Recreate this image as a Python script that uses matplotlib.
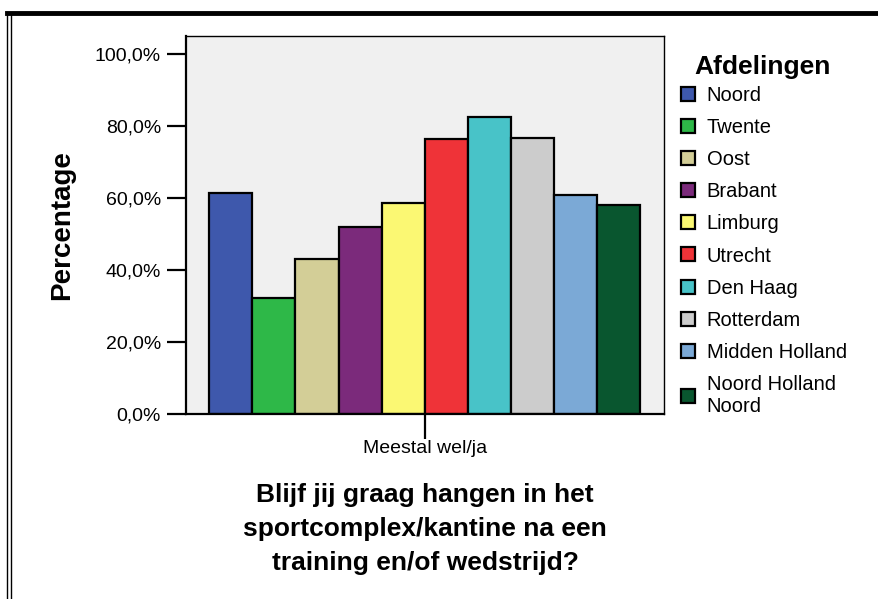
import matplotlib

matplotlib.use("Agg")
import matplotlib.pyplot as plt
from matplotlib.lines import Line2D

plt.rcParams["font.family"] = ["Liberation Sans", "DejaVu Sans"]

afdelingen = ["Noord", "Twente", "Oost", "Brabant", "Limburg", "Utrecht",
              "Den Haag", "Rotterdam", "Midden Holland", "Noord Holland\nNoord"]
percentages = [61.3, 32.1, 43.1, 51.9, 58.6, 76.5, 82.6, 76.8, 60.9, 58.1]
colors = ["#3e58ac", "#2eb848", "#d3ce97", "#7b2a7b", "#fbf873", "#ef3338",
          "#48c3c8", "#cccccc", "#7ba9d6", "#09562f"]
category = "Meestal wel/ja"
yticks = [0, 20, 40, 60, 80, 100]
ytick_labels = ["0,0%", "20,0%", "40,0%", "60,0%", "80,0%", "100,0%"]
title = "Blijf jij graag hangen in het\nsportcomplex/kantine na een\ntraining en/of wedstrijd?"

fig = plt.figure(figsize=(8.79, 5.99), dpi=100)
ax = fig.add_axes([0.2116, 0.3088, 0.5438, 0.6311])
ax.set_facecolor("#f0f0f0")

positions = list(range(len(percentages)))
ax.bar(positions, percentages, width=1.0, color=colors,
       edgecolor="black", linewidth=1.6)

ax.set_xlim(-1.041, len(percentages) - 0.5 + 0.557)
ax.set_ylim(0, 105)
ax.set_yticks(yticks)
ax.set_yticklabels(ytick_labels, fontsize=14)
ax.set_xticks([(len(percentages) - 1) / 2])
ax.set_xticklabels([category], fontsize=14)
ax.tick_params(axis="y", length=14, width=1.6, pad=4)
ax.tick_params(axis="x", length=18, width=1.6, pad=1)
for spine in ax.spines.values():
    spine.set_linewidth(1.0)
ax.spines["left"].set_linewidth(1.6)
ax.spines["bottom"].set_linewidth(1.6)

ax.set_ylabel("Percentage", fontsize=20, fontweight="bold", labelpad=14)
fig.text(0.4835, 0.1175, title, ha="center", va="center", fontsize=19,
         fontweight="bold", linespacing=1.53)

handles = [Line2D([0], [0], marker="s", linestyle="none", markersize=9.5,
                  markerfacecolor=c, markeredgecolor="black", markeredgewidth=1.6)
           for c in colors]
leg = fig.legend(handles, afdelingen, loc="upper left",
                 bbox_to_anchor=(0.756, 0.9317), frameon=False,
                 fontsize=14.5, title="Afdelingen", handletextpad=0.5,
                 labelspacing=0.65, handlelength=0.9, borderpad=0.2,
                 title_fontproperties={"weight": "bold", "size": 19})
leg._legend_box.align = "left"
leg._legend_box.sep = 5.1
leg.get_title().set_position((16, 0))

# outer frame: thick top line and double left line
fig.add_artist(Line2D([0.008, 1.0], [0.978, 0.978], color="black", linewidth=3.5,
                      transform=fig.transFigure))
fig.add_artist(Line2D([0.008, 0.008], [0.0, 0.98], color="black", linewidth=1.0,
                      transform=fig.transFigure))
fig.add_artist(Line2D([0.0125, 0.0125], [0.0, 0.976], color="black", linewidth=1.0,
                      transform=fig.transFigure))

fig.savefig("out.png", dpi=100)
